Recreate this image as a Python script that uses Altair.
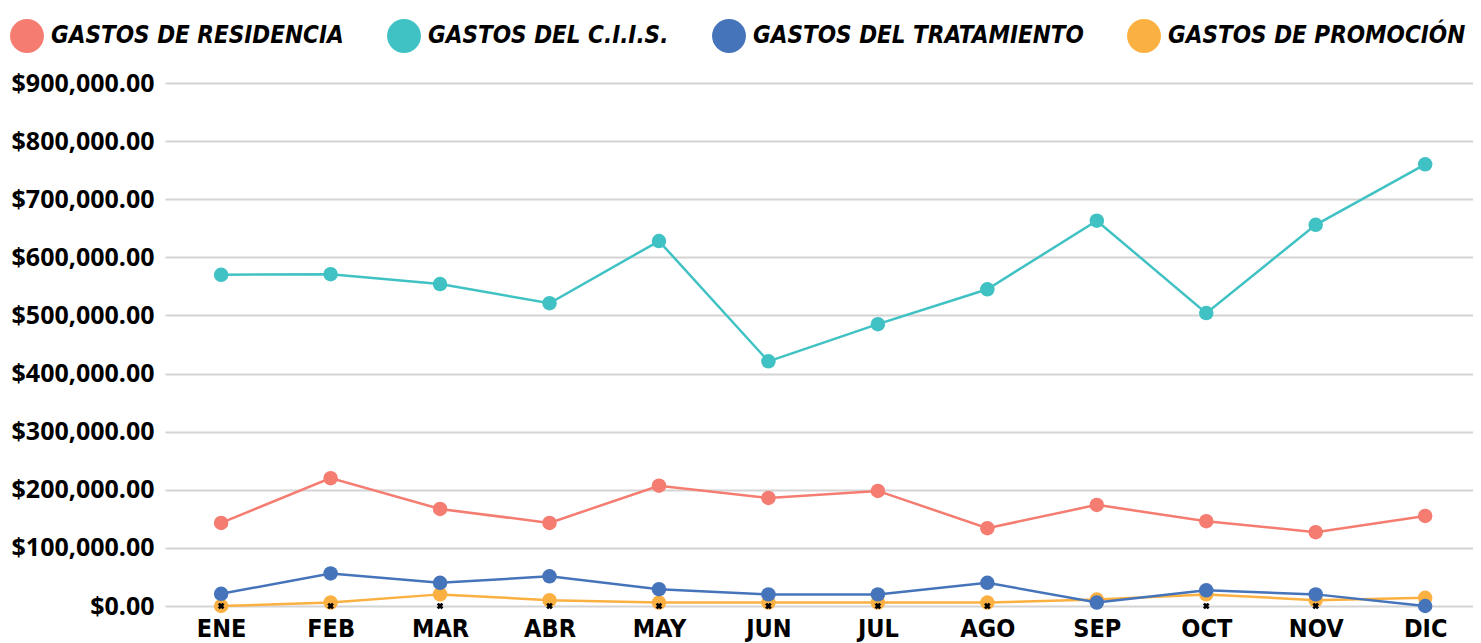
import altair as alt
import pandas as pd

meses = ["ENE", "FEB", "MAR", "ABR", "MAY", "JUN", "JUL", "AGO", "SEP", "OCT", "NOV", "DIC"]
series = ["GASTOS DE RESIDENCIA", "GASTOS DEL C.I.I.S.", "GASTOS DEL TRATAMIENTO", "GASTOS DE PROMOCIÓN"]
colores = ["#F47C70", "#40C2C4", "#4574BA", "#FBB042"]

residencia = [143000, 220000, 167000, 143000, 207000, 186000, 198000, 134000, 174000, 146000, 127000, 155000]
ciis = [570000, 571000, 554000, 521000, 628000, 421000, 485000, 545000, 663000, 504000, 656000, 760000]
tratamiento = [21000, 56000, 40000, 51000, 29000, 20000, 20000, 40000, 6000, 27000, 20000, 0]
promocion = [0, 6000, 20000, 10000, 6000, 6000, 6000, 6000, 11000, 20000, 10000, 14000]
marcas = [0, 0, 0, 0, 0, 0, 0, 0, 0, 0, 0, 0]

y_ticks = [0, 100000, 200000, 300000, 400000, 500000, 600000, 700000, 800000, 900000]

rows = []
for name, vals in zip(series, [residencia, ciis, tratamiento, promocion]):
    for m, v in zip(meses, vals):
        rows.append({"mes": m, "serie": name, "valor": v})
df = pd.DataFrame(rows)
df_marcas = pd.DataFrame({"mes": meses, "valor": marcas})

COND = "DejaVu Sans Condensed"

x_enc = alt.X("mes:N", sort=meses, scale=alt.Scale(type="point", padding=0.475, align=0.54),
              axis=alt.Axis(title=None, labelAngle=0, domain=False, ticks=False, grid=False,
                            labelFont=COND, labelFontWeight="bold",
                            labelFontSize=25, labelColor="#000000", labelPadding=10))
y_enc = alt.Y("valor:Q", scale=alt.Scale(domain=[0, 900000], nice=False),
              axis=alt.Axis(title=None, values=y_ticks, format="$,.2f", domain=False, ticks=False,
                            grid=True, gridColor="#D4D4D4", gridWidth=2,
                            labelFont="Open Sans", labelFontWeight="bold", labelFontSize=25,
                            labelColor="#000000", labelPadding=11))
color_scale = alt.Scale(domain=series, range=colores)

leg = alt.Legend(title=None, orient="none", direction="horizontal", legendX=-155, legendY=-64,
                 symbolType="circle", symbolSize=1150, symbolStrokeWidth=0, symbolOpacity=1,
                 labelFont=COND, labelFontWeight="bold", labelFontStyle="italic",
                 labelFontSize=24, labelColor="#000000", labelLimit=400, labelOffset=7,
                 columnPadding=43)

def serie_layers(i):
    name = series[i]
    base = alt.Chart(df).transform_filter(alt.datum.serie == name)
    line = base.mark_line(strokeWidth=2.5, color=colores[i]).encode(x=x_enc, y=y_enc)
    pts = base.mark_point(filled=True, size=210, opacity=1).encode(
        x=x_enc, y=y_enc, color=alt.Color("serie:N", scale=color_scale, legend=leg))
    return [line, pts]

layers = []
layers += serie_layers(0)
layers += serie_layers(1)
layers += serie_layers(3)
cruz = alt.Chart(df_marcas).mark_point(shape="cross", angle=45, filled=True, size=45,
                                        color="#000000", opacity=1).encode(x=x_enc, y=y_enc)
layers.append(cruz)
layers += serie_layers(2)

chart = alt.layer(*layers).properties(
    width=1308, height=523,
    autosize=alt.AutoSizeParams(type="none"),
    padding={"left": 157, "top": 75, "right": 0, "bottom": 42},
).configure_view(stroke=None)

chart.save("out.html", embed_options={"renderer": "svg", "actions": False})
